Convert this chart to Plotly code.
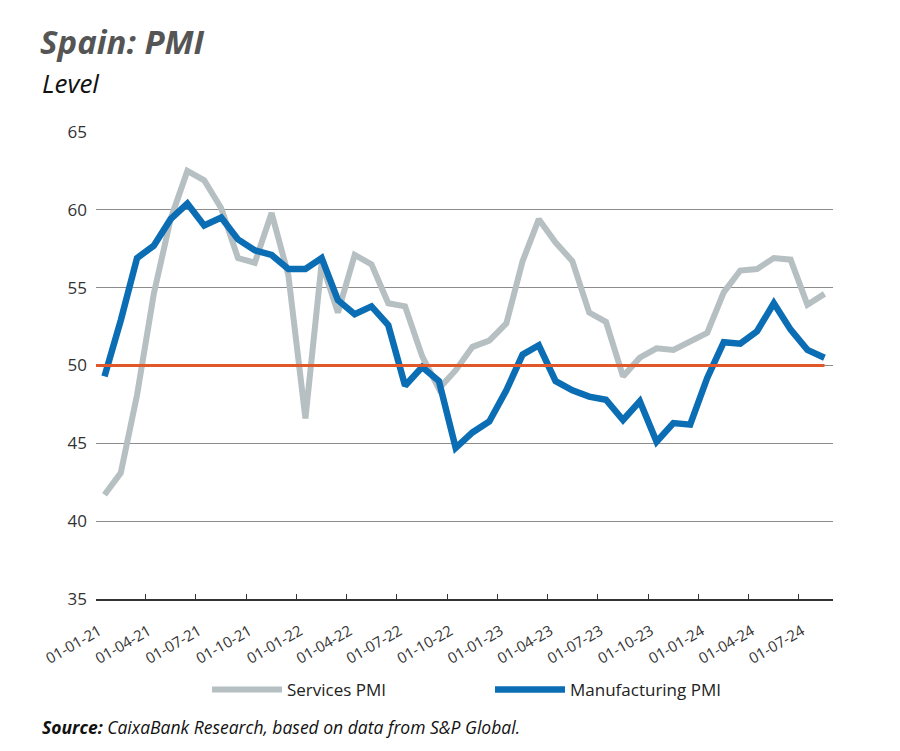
import plotly.graph_objects as go
import pandas as pd

months = pd.date_range("2021-01-01", "2024-08-01", freq="MS").strftime("%Y-%m-%d").tolist()

services_pmi = [
    41.7, 43.1, 48.1, 54.6, 59.4, 62.5, 61.9, 60.1, 56.9, 56.6, 59.8, 55.8,
    46.6, 56.6, 53.4, 57.1, 56.5, 54.0, 53.8, 50.6, 48.5, 49.7, 51.2, 51.6,
    52.7, 56.7, 59.4, 57.9, 56.7, 53.4, 52.8, 49.3, 50.5, 51.1, 51.0, 51.5,
    52.1, 54.7, 56.1, 56.2, 56.9, 56.8, 53.9, 54.6,
]
manufacturing_pmi = [
    49.3, 52.9, 56.9, 57.7, 59.4, 60.4, 59.0, 59.5, 58.1, 57.4, 57.1, 56.2,
    56.2, 56.9, 54.2, 53.3, 53.8, 52.6, 48.7, 49.9, 49.0, 44.7, 45.7, 46.4,
    48.4, 50.7, 51.3, 49.0, 48.4, 48.0, 47.8, 46.5, 47.7, 45.1, 46.3, 46.2,
    49.2, 51.5, 51.4, 52.2, 54.0, 52.3, 51.0, 50.5,
]
threshold = 50
y_ticks = [35, 40, 45, 50, 55, 60, 65]

FONT = "Open Sans"
GRAY = "#B6BFC1"
BLUE = "#0B6DB3"
ORANGE = "#E0572A"

fig = go.Figure()
fig.add_trace(go.Scatter(
    x=months, y=services_pmi, name="Services PMI", mode="lines",
    xperiod="M1", xperiodalignment="middle",
    line=dict(color=GRAY, width=6),
))
fig.add_trace(go.Scatter(
    x=months, y=manufacturing_pmi, name="Manufacturing PMI", mode="lines",
    xperiod="M1", xperiodalignment="middle",
    line=dict(color=BLUE, width=6.5),
))

fig.add_shape(
    type="line", xref="x", yref="y",
    x0=months[0], x1=pd.Timestamp(months[-1]) + pd.Timedelta(days=15.5),
    y0=threshold, y1=threshold,
    line=dict(color=ORANGE, width=3), layer="above",
)

PLOT_W = 737
PLOT_H = 467

fig.update_layout(
    width=900, height=751,
    paper_bgcolor="white", plot_bgcolor="white",
    margin=dict(l=88, r=75, t=124, b=160),
    font=dict(family=FONT, color="#333333"),
    title=dict(
        text="<b><i>Spain: PMI</i></b>",
        font=dict(family=FONT, size=33, color="#555555"),
        x=32 / 900, xanchor="left", xref="container",
        y=1 - 34 / 751, yanchor="middle", yref="container",
    ),
    showlegend=True,
    legend=dict(
        orientation="h", x=(199 - 88) / PLOT_W, xanchor="left",
        y=(591 - 682) / PLOT_H, yanchor="middle",
        font=dict(family=FONT, size=17, color="#222222"),
        entrywidth=198, itemwidth=70,
    ),
    xaxis=dict(
        type="date",
        range=[months[0], "2024-09-01"],
        tick0=months[0], dtick="M3", tickformat="%d-%m-%y",
        tickangle=-30, ticks="inside", ticklen=5, tickcolor="#333333",
        showline=True, linecolor="#333333", linewidth=1.5,
        showgrid=False, zeroline=False,
        ticklabelstandoff=16, ticklabelshift=3,
        tickfont=dict(family=FONT, size=15, color="#333333"),
    ),
    yaxis=dict(
        range=[35, 65], tickvals=y_ticks,
        showgrid=True, gridcolor="#8C8C8C", gridwidth=1,
        zeroline=False, showline=False, ticks="",
        ticklabelstandoff=8,
        tickfont=dict(family=FONT, size=17, color="#333333"),
    ),
    annotations=[
        dict(
            text="<i>Level</i>", xref="paper", yref="paper",
            x=-56 / PLOT_W, y=(599 - 83) / PLOT_H, xanchor="left", yanchor="middle",
            showarrow=False, font=dict(family=FONT, size=26, color="#111111"),
        ),
        dict(
            text="<b><i>Source:</i></b><i> CaixaBank Research, based on data from S&P Global.</i>",
            xref="paper", yref="paper",
            x=-56 / PLOT_W, y=(599 - 727) / PLOT_H, xanchor="left", yanchor="middle",
            showarrow=False, font=dict(family=FONT, size=17.5, color="#111111"),
        ),
    ],
)

fig.write_html("out.html")
